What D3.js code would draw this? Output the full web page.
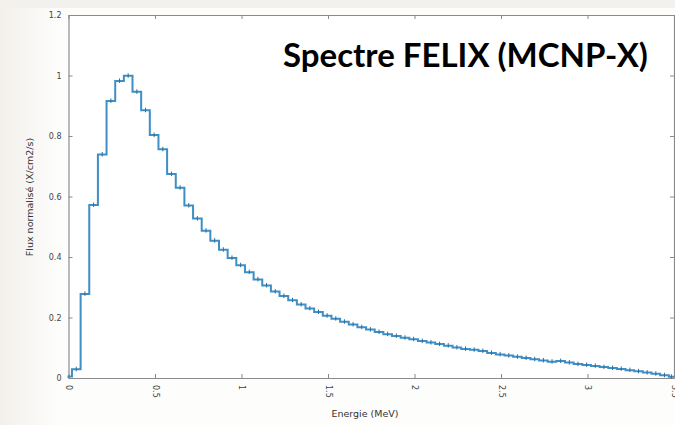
<!DOCTYPE html>
<html><head><meta charset="utf-8">
<script src="https://cdn.jsdelivr.net/npm/d3@7"></script>
<style>html,body{margin:0;padding:0;background:#fff;}svg{display:block;}</style>
</head><body>
<svg id="chart" width="675" height="425"></svg>
<script>
// ---- data ----
const titleText = "Spectre FELIX (MCNP-X)";
const xLabel = "Energie (MeV)";
const yLabel = "Flux normalisé (X/cm2/s)";
const xTicks = [0, 0.5, 1, 1.5, 2, 2.5, 3, 3.5];
const yTicks = [0, 0.2, 0.4, 0.6, 0.8, 1, 1.2];
// lower edges of energy bins (MeV); first bin 0-0.02, then 0.05 MeV wide
const binEdges = [0].concat(d3.range(0, 70).map(i => +(0.02 + 0.05 * i).toFixed(2)));
const binEnd = 3.5;
// normalised flux per bin
const flux = [0.005,
  0.029, 0.278, 0.572, 0.739, 0.916, 0.982, 0.999, 0.946, 0.885, 0.803,
  0.756, 0.674, 0.629, 0.570, 0.527, 0.487, 0.454, 0.424, 0.397, 0.373,
  0.350, 0.326, 0.306, 0.286, 0.271, 0.257, 0.243, 0.230, 0.218, 0.206,
  0.196, 0.186, 0.177, 0.168, 0.160, 0.152, 0.145, 0.139, 0.133, 0.128,
  0.122, 0.117, 0.112, 0.107, 0.101, 0.096, 0.093, 0.089, 0.083, 0.078,
  0.074, 0.070, 0.066, 0.062, 0.058, 0.054, 0.056, 0.051, 0.046, 0.043,
  0.040, 0.036, 0.033, 0.030, 0.026, 0.022, 0.018, 0.014, 0.009, 0.004];

// ---- drawing ----
const svg = d3.select("#chart");
const W = 675, H = 425;
const L = 68.5, R = 674, T = 15, B = 378;

// slide-like background
const defs = svg.append("defs");
const lg = defs.append("linearGradient").attr("id", "bgL").attr("x1", 0).attr("x2", 1).attr("y1", 0).attr("y2", 0);
lg.append("stop").attr("offset", "0%").attr("stop-color", "#f3f0ec");
lg.append("stop").attr("offset", "100%").attr("stop-color", "#fdfdfc");
svg.append("rect").attr("width", W).attr("height", H).attr("fill", "#fdfdfc");
svg.append("rect").attr("width", 60).attr("height", H).attr("fill", "url(#bgL)");
svg.append("rect").attr("width", W).attr("height", 8).attr("fill", "#f3f1ed");
svg.append("rect").attr("x", L).attr("y", T).attr("width", R - L).attr("height", B - T).attr("fill", "#ffffff");

const x = d3.scaleLinear().domain([0, 3.5]).range([L, R]);
const y = d3.scaleLinear().domain([0, 1.2]).range([B, T]);

const axisColor = "#8a8a8a";
const tickFont = "DejaVu Sans, sans-serif";

function styleAxis(g) {
  g.select(".domain").attr("stroke", axisColor).attr("stroke-width", 1.2);
  g.selectAll(".tick line").attr("stroke", axisColor);
  g.selectAll(".tick text").attr("fill", "#444").attr("font-size", 8).attr("font-family", tickFont);
}

// bottom axis
const gx = svg.append("g").attr("transform", `translate(0,${B})`)
  .call(d3.axisBottom(x).tickValues(xTicks).tickFormat(d3.format("~g")).tickSizeInner(-4).tickSizeOuter(0).tickPadding(6));
styleAxis(gx);
gx.selectAll(".tick text")
  .attr("transform", "rotate(90)")
  .attr("text-anchor", "start")
  .attr("dy", "0.35em")
  .attr("y", 0)
  .attr("x", 7);

// top axis
const gt = svg.append("g").attr("transform", `translate(0,${T})`)
  .call(d3.axisTop(x).tickValues(xTicks).tickFormat("").tickSizeInner(-4).tickSizeOuter(0));
styleAxis(gt);

// left axis
const gy = svg.append("g").attr("transform", `translate(${L},0)`)
  .call(d3.axisLeft(y).tickValues(yTicks).tickFormat(d3.format("~g")).tickSizeInner(-4).tickSizeOuter(0).tickPadding(7));
styleAxis(gy);

// right axis
const gr = svg.append("g").attr("transform", `translate(${R},0)`)
  .call(d3.axisRight(y).tickValues(yTicks).tickFormat("").tickSizeInner(-4).tickSizeOuter(0));
styleAxis(gr);

// step histogram
const pts = [[0, 0]];
binEdges.forEach((e, i) => pts.push([e, flux[i]]));
pts.push([binEnd, flux[flux.length - 1]]);
const line = d3.line().x(d => x(d[0])).y(d => y(d[1])).curve(d3.curveStepAfter);
svg.append("path").datum(pts).attr("d", line)
  .attr("fill", "none").attr("stroke", "#3d8fc6").attr("stroke-width", 2).attr("stroke-linejoin", "miter");

// small error markers at bin centres
const centres = binEdges.map((e, i) => ({ c: (e + (i + 1 < binEdges.length ? binEdges[i + 1] : binEnd)) / 2, v: flux[i] }));
svg.append("g").selectAll("line").data(centres.slice(1)).join("line")
  .attr("x1", d => x(d.c)).attr("x2", d => x(d.c))
  .attr("y1", d => y(d.v) - 2.5).attr("y2", d => y(d.v) + 2)
  .attr("stroke", "#2d6f9c").attr("stroke-width", 1);

// axis labels
svg.append("text").attr("x", 365).attr("y", 417).attr("text-anchor", "middle")
  .attr("font-family", tickFont).attr("font-size", 9.5).attr("fill", "#333").text(xLabel);
svg.append("text").attr("transform", "translate(33,197) rotate(-90)").attr("text-anchor", "middle")
  .attr("font-family", tickFont).attr("font-size", 9.5).attr("fill", "#333").text(yLabel);

// title
const t = svg.append("text").attr("x", 283).attr("y", 67)
  .attr("font-family", "Lato, 'Open Sans', sans-serif").attr("font-weight", 700)
  .attr("font-size", 28).attr("fill", "#000").text(titleText);
const tw = t.node().getComputedTextLength();
t.attr("font-size", 28 * 365 / tw);
</script>
</body></html>
